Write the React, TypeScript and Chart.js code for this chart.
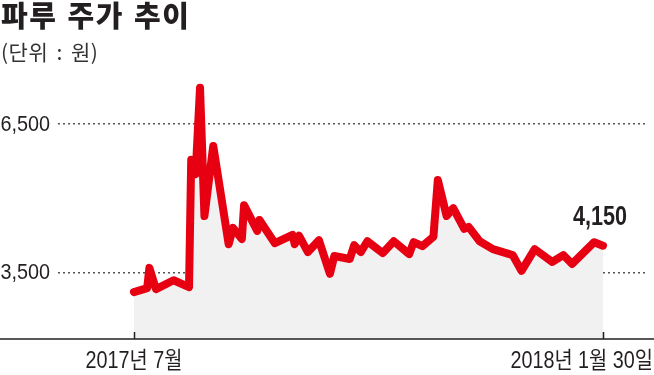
import React, { useEffect, useRef } from "react";
import { Chart, registerables } from "chart.js";

Chart.register(...registerables);

const FONT = "'Liberation Sans', 'Noto Sans CJK KR', sans-serif";

// Trading days counted from the start of July 2017
const days = [0, 6, 7, 10, 18, 25, 26, 28, 30, 32, 36, 43, 45, 49, 50, 56, 57, 64, 72, 73, 75, 79, 84, 89, 91, 98, 100, 103, 106, 113, 118, 125, 127, 131, 136, 138, 142, 145, 150, 152, 157, 163, 172, 176, 182, 190, 195, 199, 209, 213];
// Share price (원)
const prices = [3100, 3180, 3590, 3160, 3340, 3200, 5780, 5490, 7240, 4640, 6060, 4070, 4400, 4175, 4860, 4340, 4560, 4090, 4260, 4070, 4240, 3910, 4150, 3470, 3830, 3770, 4050, 3910, 4130, 3890, 4130, 3870, 4110, 4030, 4220, 5370, 4640, 4800, 4380, 4420, 4130, 3970, 3850, 3530, 3970, 3710, 3850, 3670, 4110, 4040];

const xTickValues = [0, 213];
const xTickLabels = ["2017년 7월", "2018년 1월 30일"];
const yTicks = [3500, 6500];
const lastLabel = "4,150";
const title = "파루 주가 추이";
const subtitle = "(단위 : 원)";

function drawCondensed(
  ctx: CanvasRenderingContext2D,
  text: string,
  x: number,
  y: number,
  align: "left" | "center" | "right",
  sx: number
) {
  const w = ctx.measureText(text).width * sx;
  let left = x;
  if (align === "center") left = x - w / 2;
  if (align === "right") left = x - w;
  ctx.save();
  ctx.translate(left, y);
  ctx.scale(sx, 1);
  ctx.textAlign = "left";
  ctx.fillText(text, 0, 0);
  ctx.restore();
  return w;
}

export default function App() {
  const ref = useRef<HTMLCanvasElement>(null);

  useEffect(() => {
    document.body.style.margin = "0";
    const canvas = ref.current!;
    const labelPlugin = {
      id: "customLabels",
      afterDatasetsDraw(chart: any) {
        const ctx = chart.ctx as CanvasRenderingContext2D;
        const xs = chart.scales.x;
        const ys = chart.scales.y;
        const bottom = chart.chartArea.bottom;
        ctx.save();
        // axis line
        ctx.strokeStyle = "#231f20";
        ctx.lineWidth = 1.5;
        ctx.beginPath();
        ctx.moveTo(0, bottom);
        ctx.lineTo(chart.width, bottom);
        ctx.stroke();
        xTickValues.forEach((v) => {
          const px = Math.round(xs.getPixelForValue(v)) + 0.5;
          ctx.beginPath();
          ctx.moveTo(px, bottom - 7);
          ctx.lineTo(px, bottom);
          ctx.stroke();
        });
        ctx.fillStyle = "#231f20";
        // y labels
        ctx.font = `22px ${FONT}`;
        ctx.textBaseline = "middle";
        yTicks.forEach((v) => {
          const py = ys.getPixelForValue(v);
          drawCondensed(ctx, v.toLocaleString("en-US"), 50, py + 1, "right", 0.9);
        });
        // x labels
        ctx.font = `23px ${FONT}`;
        ctx.textBaseline = "alphabetic";
        const sxX = 0.86;
        xTickValues.forEach((v, i) => {
          const px = xs.getPixelForValue(v);
          const w = ctx.measureText(xTickLabels[i]).width * sxX;
          let tx = px - w / 2;
          if (tx + w > chart.width - 1) tx = chart.width - 1 - w;
          drawCondensed(ctx, xTickLabels[i], tx, bottom + 29, "left", sxX);
        });
        // last value label
        const lx = xs.getPixelForValue(days[days.length - 1]);
        const ly = ys.getPixelForValue(prices[prices.length - 1]);
        ctx.font = `bold 27px ${FONT}`;
        drawCondensed(ctx, lastLabel, lx - 3, ly - 21, "center", 0.8);
        ctx.restore();
      },
    };

    const chart = new Chart(canvas, {
      type: "line",
      data: {
        datasets: [
          {
            data: days.map((d, i) => ({ x: d, y: prices[i] })),
            borderColor: "#e60012",
            borderWidth: 8,
            backgroundColor: "#f1f1f1",
            fill: "start",
            pointRadius: 0,
            tension: 0,
            borderJoinStyle: "round",
            borderCapStyle: "round",
          },
        ],
      },
      options: {
        responsive: false,
        animation: false,
        devicePixelRatio: 1,
        layout: { padding: { left: 0, right: 7, top: 60, bottom: 36 } },
        plugins: { legend: { display: false }, tooltip: { enabled: false } },
        scales: {
          x: { type: "linear", min: -34.5, max: 233, display: false },
          y: {
            type: "linear",
            min: 2150,
            max: 7800,
            afterBuildTicks: (axis: any) => {
              axis.ticks = yTicks.map((v) => ({ value: v }));
            },
            afterFit: (axis: any) => {
              axis.width = 58;
            },
            ticks: { display: false },
            grid: { color: "#555", lineWidth: 1.5, drawTicks: false },
            border: { display: false, dash: [2, 3] },
          },
        },
      },
      plugins: [labelPlugin],
    } as any);
    return () => chart.destroy();
  }, []);

  return (
    <div style={{ position: "relative", width: 654, height: 375, background: "#fff", overflow: "hidden" }}>
      <canvas ref={ref} width={654} height={375} style={{ display: "block", position: "absolute", left: 0, top: 0 }} />
      <div
        style={{
          position: "absolute",
          left: 1,
          top: 0,
          fontFamily: "'Noto Sans CJK KR', sans-serif",
          fontWeight: 900,
          fontSize: 29,
          lineHeight: 1,
          letterSpacing: 1.5,
          wordSpacing: 2,
          color: "#231f20",
          whiteSpace: "nowrap",
        }}
      >
        {title}
      </div>
      <div
        style={{
          position: "absolute",
          left: 1,
          top: 41,
          fontFamily: "'Noto Sans CJK KR', sans-serif",
          fontWeight: 400,
          fontSize: 21,
          lineHeight: 1,
          wordSpacing: 3,
          letterSpacing: 0.5,
          color: "#333",
          whiteSpace: "nowrap",
        }}
      >
        {subtitle}
      </div>
    </div>
  );
}
